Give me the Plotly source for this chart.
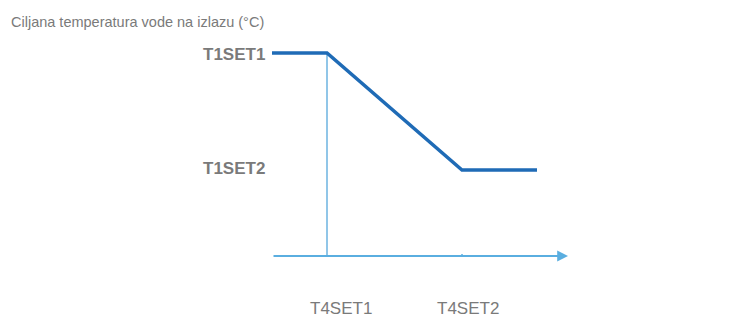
import plotly.graph_objects as go

# Data (arbitrary units)
curve_x = [0, 55, 190, 265]
curve_y = [203, 203, 86, 86]
x_tick_vals = [55, 190]
x_tick_labels = ["T4SET1", "T4SET2"]
y_tick_vals = [203, 86]
y_tick_labels = ["T1SET1", "T1SET2"]
y_title = "Ciljana temperatura vode na izlazu (°C)"
x_title = "Spoljna temperatura (°C)"

# page body has an 8px margin, so figure is offset by (8, 8)
W, H = 743, 310
ML, MR, MT, MB = 264, 184, 32, 62

fig = go.Figure()

fig.add_trace(go.Scatter(x=[x_tick_vals[0], x_tick_vals[0]], y=[0, curve_y[0]],
                         mode="lines", line=dict(color="#6db3e0", width=1.5),
                         hoverinfo="skip", showlegend=False))
fig.add_trace(go.Scatter(x=curve_x, y=curve_y, mode="lines",
                         line=dict(color="#1f6bb6", width=3.5),
                         hoverinfo="skip", showlegend=False))

gray = "#7a7a7a"
font = "Liberation Sans, Arial, sans-serif"

fig.add_annotation(x=296, y=0, ax=0, ay=0, xref="x", yref="y", axref="x", ayref="y",
                   showarrow=True, arrowhead=2, arrowsize=1.2, arrowwidth=1.8,
                   arrowcolor="#5aaee0", text="")
fig.add_shape(type="line", x0=x_tick_vals[1], x1=x_tick_vals[1], y0=0, y1=2,
              line=dict(color="#5aaee0", width=1.5))

for xv, lab, xs in zip(x_tick_vals, x_tick_labels, [14, 6]):
    fig.add_annotation(x=xv, y=0, xref="x", yref="y", text=lab, showarrow=False,
                       xshift=xs, yshift=-52, borderpad=0,
                       font=dict(family=font, size=17, color=gray))
for yv, lab, ys in zip(y_tick_vals, y_tick_labels, [-1, 2]):
    fig.add_annotation(x=0, y=yv, xref="x", yref="y", text="<b>" + lab + "</b>",
                       showarrow=False, xanchor="right", xshift=-5, yshift=ys,
                       font=dict(family=font, size=17, color=gray))

fig.add_annotation(x=0, y=203, xref="x", yref="y", text=y_title, showarrow=False,
                   xanchor="left", xshift=-263, yshift=31,
                   font=dict(family=font, size=14.5, color=gray))
fig.add_annotation(x=296, y=0, xref="x", yref="y", text=x_title, showarrow=False,
                   xanchor="left", xshift=13, yshift=2,
                   font=dict(family=font, size=14.8, color=gray))

fig.update_xaxes(range=[0, 295], visible=False, fixedrange=True)
fig.update_yaxes(range=[0, 216], visible=False, fixedrange=True)
fig.update_layout(width=W, height=H, margin=dict(l=ML, r=MR, t=MT, b=MB),
                  plot_bgcolor="white", paper_bgcolor="white", showlegend=False)

fig.write_html("out.html")
